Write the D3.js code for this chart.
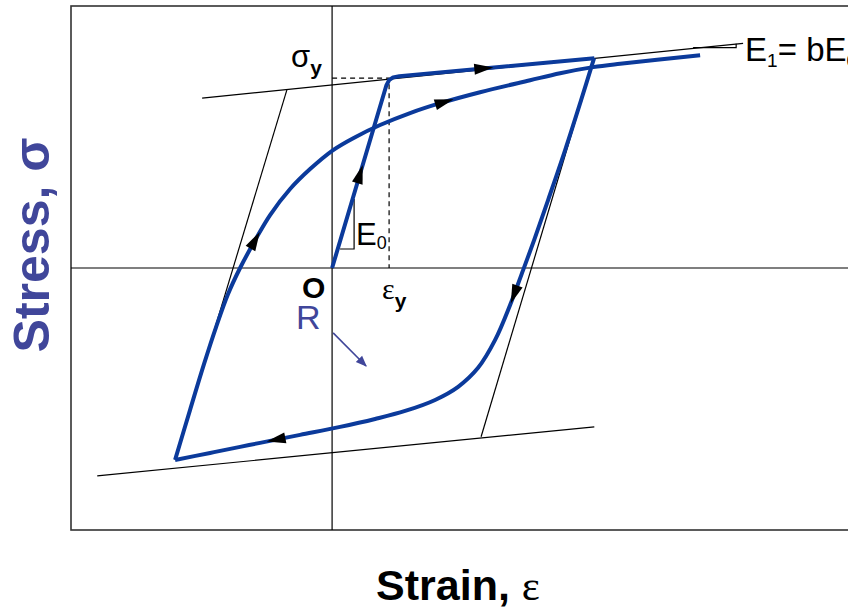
<!DOCTYPE html>
<html>
<head>
<meta charset="utf-8">
<script src="https://cdn.jsdelivr.net/npm/d3@7"></script>
<style>
  body { margin: 0; background: #fff; }
  svg { display: block; font-family: "Liberation Sans", Arial, sans-serif; }
</style>
</head>
<body>
<script>
//strain in units of eps_y, stress in units of sigma_y

//first loading, O -> yield -> reversal A
var loadStrain = [0, 0.95, 1.0, 1.07, 1.18, 4.6];
var loadStress = [0, 0.96, 0.99, 1.004, 1.01, 1.105];

//unloading branch, A -> B
var unloadStrain = [4.596, 4.368, 4.088, 3.789, 3.544, 3.351, 3.123, 2.86, 2.561, 2.211, 1.807, 1.281, 0.754, 0.14, -0.561, -1.263, -1.614, -2.14, -2.754];
var unloadStress = [1.105, 0.884, 0.621, 0.358, 0.147, -0.011, -0.195, -0.379, -0.526, -0.626, -0.695, -0.753, -0.795, -0.837, -0.879, -0.921, -0.942, -0.974, -1.011];

//reloading branch, B -> upper asymptote
var reloadStrain = [-2.754, -2.491, -2.246, -2.035, -1.825, -1.614, -1.368, -1.088, -0.737, -0.386, 0.018, 0.404, 0.842, 1.368, 1.895, 2.596, 3.474, 4.0, 4.579, 5.053, 6.456];
var reloadStress = [-1.011, -0.747, -0.505, -0.311, -0.137, 0, 0.137, 0.279, 0.416, 0.521, 0.621, 0.689, 0.753, 0.816, 0.868, 0.926, 0.989, 1.026, 1.058, 1.076, 1.121];

//asymptote lines (two end points each)
var upperEnvStrain = [-2.28, 7.21], upperEnvStress = [0.895, 1.183];
var lowerEnvStrain = [-4.12, 4.6], lowerEnvStress = [-1.095, -0.837];
var unloadAsymStrain = [4.596, 2.614], unloadAsymStress = [1.105, -0.889];
var reloadAsymStrain = [-0.789, -2.754], reloadAsymStress = [0.942, -1.011];

//slope triangles
var e0TriStrain = [0.14, 0.386, 0.386], e0TriStress = [0.1, 0.1, 0.363];
var e1TriStrain = [6.333, 7.088, 7.088], e1TriStress = [1.161, 1.161, 1.181];

//arrow tips: which branch and where
var arrowBranch = ["load", "load", "reload", "reload", "unload", "unload"];
var arrowStrain = [0.544, 2.825, -1.263, 2.123, 3.07, -1.14];
var arrowStress = [0.542, 1.053, 0.189, 0.895, -0.179, -0.921];

var width = 848, height = 608;
var blue = "#0b3a9b", label = "#40469a";

var svg = d3.select("body").append("svg")
    .attr("width", width)
    .attr("height", height);

var x = d3.scaleLinear().domain([-4.58, 9.05]).range([71, 848]);
var y = d3.scaleLinear().domain([-1.38, 1.38]).range([530, 6]);

function zip(a, b){ return a.map(function(v, i){ return [v, b[i]]; }); }

var line = d3.line()
    .x(function(d){ return x(d[0]); })
    .y(function(d){ return y(d[1]); });
var smooth = d3.line()
    .x(function(d){ return x(d[0]); })
    .y(function(d){ return y(d[1]); })
    .curve(d3.curveCatmullRom.alpha(0.5));

//frame
svg.append("rect")
    .attr("x", x(-4.58)).attr("y", y(1.38))
    .attr("width", 900).attr("height", y(-1.38) - y(1.38))
    .attr("fill", "none").attr("stroke", "#333").attr("stroke-width", 1.6);

//axes through origin
svg.append("line")
    .attr("x1", x(-4.58)).attr("x2", width)
    .attr("y1", y(0)).attr("y2", y(0))
    .attr("stroke", "#000").attr("stroke-width", 1.2);
svg.append("line")
    .attr("x1", x(0)).attr("x2", x(0))
    .attr("y1", y(1.38)).attr("y2", y(-1.38))
    .attr("stroke", "#000").attr("stroke-width", 1.2);

//thin asymptotes
[[upperEnvStrain, upperEnvStress], [lowerEnvStrain, lowerEnvStress],
 [unloadAsymStrain, unloadAsymStress], [reloadAsymStrain, reloadAsymStress]].forEach(function(s){
    svg.append("path")
        .attr("d", line(zip(s[0], s[1])))
        .attr("fill", "none").attr("stroke", "#000").attr("stroke-width", 1.2);
});

//slope triangles
[[e0TriStrain, e0TriStress], [e1TriStrain, e1TriStress]].forEach(function(s){
    svg.append("path")
        .attr("d", line(zip(s[0], s[1])))
        .attr("fill", "none").attr("stroke", "#000").attr("stroke-width", 1.2);
});

//yield dashes
svg.append("path")
    .attr("d", line([[0, 1], [1, 1], [1, 0]]))
    .attr("fill", "none").attr("stroke", "#000").attr("stroke-width", 1.2)
    .attr("stroke-dasharray", "5,4");

//blue branches
var branches = {
    load: svg.append("path").attr("d", line(zip(loadStrain, loadStress))),
    unload: svg.append("path").attr("d", smooth(zip(unloadStrain, unloadStress))),
    reload: svg.append("path").attr("d", smooth(zip(reloadStrain, reloadStress)))
};
Object.keys(branches).forEach(function(k){
    branches[k].attr("fill", "none").attr("stroke", blue)
        .attr("stroke-width", 4).attr("stroke-linejoin", "round");
});

//arrowheads placed on the branch nearest to each tip
arrowBranch.forEach(function(b, i){
    var node = branches[b].node(), len = node.getTotalLength();
    var tx = x(arrowStrain[i]), ty = y(arrowStress[i]);
    var best = 0, bestD = Infinity;
    for (var l = 0; l <= len; l += 0.5){
        var p = node.getPointAtLength(l);
        var d = (p.x - tx) * (p.x - tx) + (p.y - ty) * (p.y - ty);
        if (d < bestD){ bestD = d; best = l; }
    }
    var tip = node.getPointAtLength(best),
        base = node.getPointAtLength(Math.max(0, best - 19));
    var dx = tip.x - base.x, dy = tip.y - base.y, n = Math.sqrt(dx * dx + dy * dy);
    var px = -dy / n * 5.5, py = dx / n * 5.5;
    svg.append("path")
        .attr("d", "M" + tip.x + "," + tip.y + "L" + (base.x + px) + "," + (base.y + py) +
            "L" + (base.x - px) + "," + (base.y - py) + "Z")
        .attr("fill", "#000");
});

//labels
var sy = svg.append("text").attr("x", x(0) - 41).attr("y", y(1) - 11).attr("font-size", 31);
sy.append("tspan").text("σ");
sy.append("tspan").attr("dy", 8).attr("font-size", 21).attr("font-weight", "bold").text("y");

var ey = svg.append("text").attr("x", x(1) - 7).attr("y", y(0) + 31).attr("font-size", 30);
ey.append("tspan").attr("font-family", "Liberation Serif").text("ε");
ey.append("tspan").attr("dy", 9).attr("font-size", 21).attr("font-weight", "bold").text("y");

svg.append("text").attr("x", x(0) - 30).attr("y", y(0) + 30)
    .attr("font-size", 30).attr("font-weight", "bold").text("O");

var e0 = svg.append("text").attr("x", x(0.386) + 2).attr("y", y(0.1) - 4).attr("font-size", 31);
e0.append("tspan").text("E");
e0.append("tspan").attr("dy", 4).attr("font-size", 18).text("0");

var e1 = svg.append("text").attr("x", x(7.21) + 2).attr("y", y(1.183) + 18).attr("font-size", 33);
e1.append("tspan").text("E");
e1.append("tspan").attr("dy", 6).attr("font-size", 19).text("1");
e1.append("tspan").attr("dy", -6).text("= bE");
e1.append("tspan").attr("dy", 6).attr("font-size", 19).text("0");

svg.append("text").attr("x", x(0) - 36).attr("y", y(0) + 61)
    .attr("font-size", 34).attr("fill", label).text("R");

//R arrow
svg.append("defs").append("marker")
    .attr("id", "rarrow").attr("viewBox", "0 0 10 10")
    .attr("refX", 9).attr("refY", 5)
    .attr("markerWidth", 7).attr("markerHeight", 7)
    .attr("orient", "auto")
    .append("path").attr("d", "M0,1L10,5L0,9Z").attr("fill", label);
svg.append("line")
    .attr("x1", x(0.018)).attr("y1", y(-0.342))
    .attr("x2", x(0.596)).attr("y2", y(-0.516))
    .attr("stroke", label).attr("stroke-width", 1.6)
    .attr("marker-end", "url(#rarrow)");

//axis titles
var yt = svg.append("text")
    .attr("transform", "translate(49,245) rotate(-90)")
    .attr("text-anchor", "middle")
    .attr("font-size", 50).attr("font-weight", "bold").attr("fill", label);
yt.append("tspan").text("Stress, ");
yt.append("tspan").text("σ");

var xt = svg.append("text")
    .attr("x", 458).attr("y", 600)
    .attr("text-anchor", "middle")
    .attr("font-size", 43).attr("font-weight", "bold").attr("fill", "#000");
xt.append("tspan").text("Strain, ");
xt.append("tspan").attr("font-family", "Liberation Serif").attr("font-weight", "normal").text("ε");
</script>
</body>
</html>
